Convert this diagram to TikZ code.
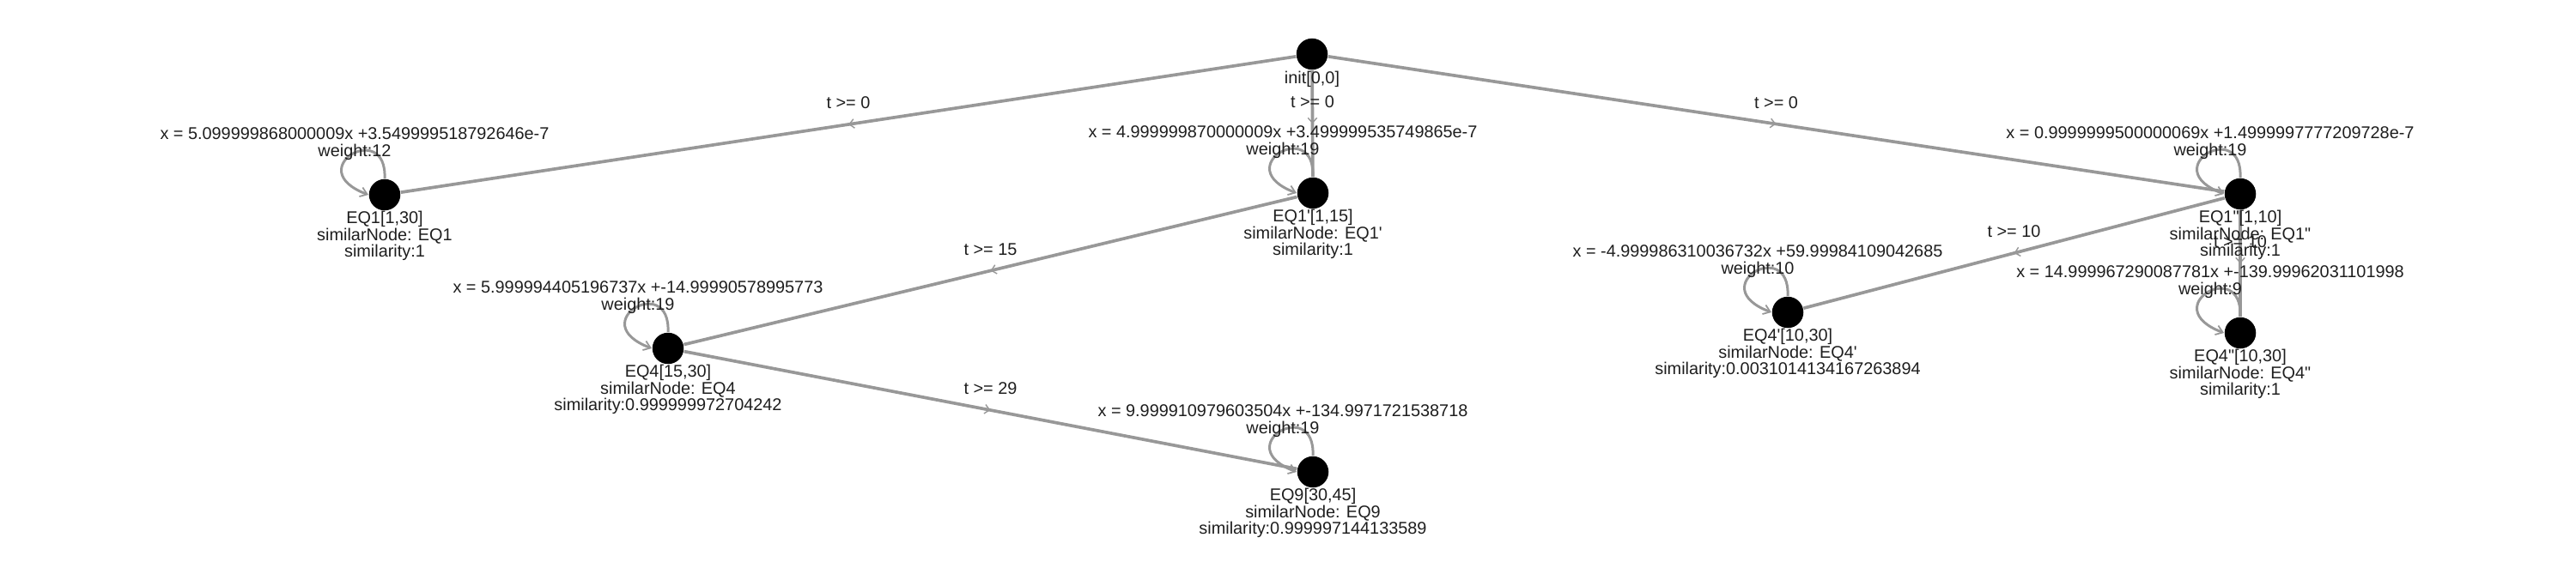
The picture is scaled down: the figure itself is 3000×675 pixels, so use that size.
\documentclass[tikz,border=0pt]{standalone}
\usepackage{fontspec}
\setmainfont{Liberation Sans}
\usetikzlibrary{arrows.meta,decorations.markings}
\definecolor{edgec}{RGB}{152,152,152}
\definecolor{textc}{RGB}{30,30,30}
\newcommand{\lblfont}{\fontsize{5.65pt}{5.55pt}\selectfont}
\begin{document}
\lineskiplimit=-5pt\relax
\begin{tikzpicture}[x=0.01cm,y=-0.01cm,
  state/.style={circle,fill=black,draw=none,minimum size=0.365cm,inner sep=0pt},
  lbl/.style={font=\lblfont,align=center,inner sep=0pt,text=textc},
  edgeline/.style={edgec,line width=1.05pt,postaction={decorate},
    decoration={markings,mark=at position 0.5 with {\arrow{Straight Barb[length=1.6pt,width=3pt,line width=0.4pt]}}}},
  selfloop/.style={edgec,line width=0.85pt,-{Straight Barb[length=2.2pt,width=3.2pt,line width=0.5pt]}},
]
\useasboundingbox (0,0) rectangle (3000,675);

% states
\node[state] (init) at (1528,63) {};
\node[state] (eq1) at (448,227) {};
\node[state] (eq1p) at (1529,225) {};
\node[state] (eq1pp) at (2609,226) {};
\node[state] (eq4) at (778,406) {};
\node[state] (eq4p) at (2082,364) {};
\node[state] (eq4pp) at (2609,388) {};
\node[state] (eq9) at (1529,550) {};

% transitions
\draw[edgeline] (init) -- node[lbl,midway,yshift=7.1pt] (t1) {t >= 0} (eq1);
\draw[edgeline] (init) -- node[lbl,midway,yshift=7.1pt] (t2) {t >= 0} (eq1p);
\draw[edgeline] (init) -- node[lbl,midway,yshift=7.1pt] (t3) {t >= 0} (eq1pp);
\draw[edgeline] (eq1p) -- node[lbl,midway,yshift=7.1pt] (t4) {t >= 15} (eq4);
\draw[edgeline] (eq4) -- node[lbl,midway,yshift=7.1pt] (t5) {t >= 29} (eq9);
\draw[edgeline] (eq1pp) -- node[lbl,midway,yshift=7.1pt] (t6) {t >= 10} (eq4p);
\draw[edgeline] (eq1pp) -- node[lbl,midway,yshift=7.1pt] (t7) {t >= 10} (eq4pp);

% self loops
\foreach \n in {eq1,eq1p,eq1pp,eq4,eq4p,eq4pp,eq9}{
  \draw[selfloop] (\n.north) .. controls +(3,-70) and +(-80,-30) .. (\n.west);
}

% state labels
\node[lbl] (linit) at (1528,92) {init[0,0]};
\node[lbl] (l1) at ([shift={(0,48)}]eq1.center) {EQ1[1,30]\\similarNode: EQ1\\similarity:1};
\node[lbl] (l2) at ([shift={(0,48)}]eq1p.center) {EQ1\textquotesingle[1,15]\\similarNode: EQ1\textquotesingle\\similarity:1};
\node[lbl] (l3) at ([shift={(0,48)}]eq1pp.center) {EQ1\textquotedbl[1,10]\\similarNode: EQ1\textquotedbl\\similarity:1};
\node[lbl] (l4) at ([shift={(0,48)}]eq4.center) {EQ4[15,30]\\similarNode: EQ4\\similarity:0.999999972704242};
\node[lbl] (l5) at ([shift={(0,48)}]eq4p.center) {EQ4\textquotesingle[10,30]\\similarNode: EQ4\textquotesingle\\similarity:0.0031014134167263894};
\node[lbl] (l6) at ([shift={(0,48)}]eq4pp.center) {EQ4\textquotedbl[10,30]\\similarNode: EQ4\textquotedbl\\similarity:1};
\node[lbl] (l7) at ([shift={(0,48)}]eq9.center) {EQ9[30,45]\\similarNode: EQ9\\similarity:0.999997144133589};

% loop labels
\node[lbl] (s1) at ([shift={(-35,-59.5)}]eq1.center) {x = 5.099999868000009x +3.549999518792646e-7\\weight:12};
\node[lbl] (s2) at ([shift={(-35,-59.5)}]eq1p.center) {x = 4.999999870000009x +3.499999535749865e-7\\weight:19};
\node[lbl] (s3) at ([shift={(-35,-59.5)}]eq1pp.center) {x = 0.9999999500000069x +1.4999997777209728e-7\\weight:19};
\node[lbl] (s4) at ([shift={(-35,-59.5)}]eq4.center) {x = 5.999994405196737x +-14.99990578995773\\weight:19};
\node[lbl] (s5) at ([shift={(-35,-59.5)}]eq4p.center) {x = -4.999986310036732x +59.99984109042685\\weight:10};
\node[lbl] (s6) at ([shift={(-35,-59.5)}]eq4pp.center) {x = 14.999967290087781x +-139.99962031101998\\weight:9};
\node[lbl] (s7) at ([shift={(-35,-59.5)}]eq9.center) {x = 9.999910979603504x +-134.9971721538718\\weight:19};
\end{tikzpicture}
\end{document}
